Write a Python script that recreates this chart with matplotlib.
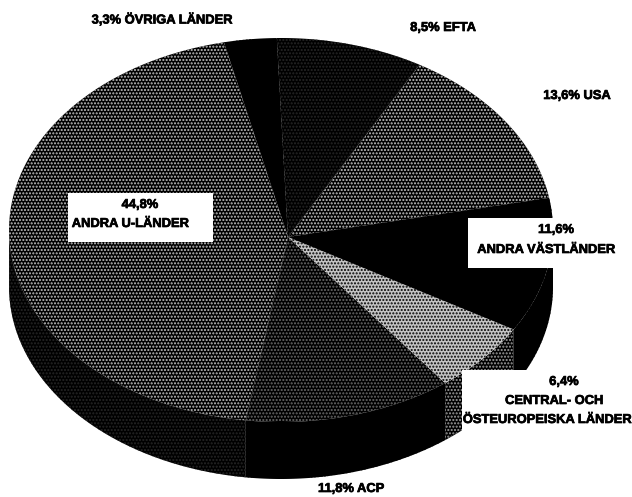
import numpy as np
import matplotlib
matplotlib.use("Agg")
import matplotlib.pyplot as plt
import matplotlib.patheffects as pe
from matplotlib.patches import Polygon, Rectangle

regions = ["USA", "EFTA", "ÖVRIGA LÄNDER", "ANDRA U-LÄNDER", "ACP", "CENTRAL- OCH ÖSTEUROPEISKA LÄNDER", "ANDRA VÄSTLÄNDER"]
shares = [13.6, 8.5, 3.3, 44.8, 11.8, 6.4, 11.6]
# wedge sizes as they are actually drawn in the picture, differ a bit from the printed numbers
drawn_shares = [13.8, 8.5, 3.0, 43.8, 12.9, 6.3, 11.7]

top_face = ["#000000", "#000000", "#000000", "#000000", "#000000", "#c4c4c4", "#000000"]
top_dots = ["#c4c4c4", "#262626", "#000000", "#c0c0c0", "#6a6a6a", "#000000", "#000000"]
wall_dots = ["#000000", "#000000", "#000000", "#262626", "#000000", "#a0a0a0", "#000000"]

plt.rcParams["font.family"] = ["Liberation Sans", "DejaVu Sans"]
plt.rcParams["hatch.linewidth"] = 1.0

CX, CY, RX, RY = 281, 230, 272, 192
APEX = (288, 237)
DEPTH = 57
START = 12


def rim_angle(theta):
    # ray from the off-centre apex out to the unit circle of the ellipse
    ax0, ay0 = (APEX[0] - CX) / RX, (CY - APEX[1]) / RY
    dx, dy = np.cos(np.radians(theta)), np.sin(np.radians(theta))
    b = ax0 * dx + ay0 * dy
    t = -b + np.sqrt(b * b - (ax0**2 + ay0**2 - 1))
    return np.degrees(np.arctan2(ay0 + t * dy, ax0 + t * dx)) % 360


def rim_xy(phi, drop=0):
    phi = np.radians(phi)
    return CX + RX * np.cos(phi), CY - RY * np.sin(phi) + drop


def pct(i):
    return f"{shares[i]:.1f}%".replace(".", ",")


fig = plt.figure(figsize=(6.32, 4.97), dpi=100)
ax = fig.add_axes([0, 0, 1, 1])
ax.set_xlim(0, 632)
ax.set_ylim(497, 0)
ax.axis("off")

edges = START + np.concatenate([[0], np.cumsum(drawn_shares)]) * 3.6
for i in range(len(drawn_shares)):
    a0 = rim_angle(edges[i])
    a1 = rim_angle(edges[i + 1])
    if a1 < a0:
        a1 += 360
    phi = np.linspace(a0, a1, 80)

    # side wall, only where the rim runs along the front
    front = phi[np.sin(np.radians(phi)) < 0]
    if len(front) > 1:
        x, y = rim_xy(front)
        x2, y2 = rim_xy(front[::-1], DEPTH)
        pts = np.column_stack([np.r_[x, x2], np.r_[y, y2]])
        ax.add_patch(Polygon(pts, facecolor="black", edgecolor=wall_dots[i],
                             hatch="." * 5, linewidth=0, zorder=1))

    x, y = rim_xy(phi)
    pts = np.column_stack([np.r_[APEX[0], x], np.r_[APEX[1], y]])
    ax.add_patch(Polygon(pts, facecolor=top_face[i], edgecolor=top_dots[i],
                         hatch="." * 5, linewidth=0, zorder=2))

# white label boxes cut into the pie
ax.add_patch(Rectangle((68, 193), 145, 49, facecolor="white", zorder=3))
ax.add_patch(Rectangle((468, 218), 164, 50, facecolor="white", zorder=3))
ax.add_patch(Rectangle((462, 370), 170, 127, facecolor="white", zorder=3))

labels = [
    (162, 20, f"{pct(2)} ÖVRIGA LÄNDER"),
    (443, 28, f"{pct(1)} EFTA"),
    (577, 96, f"{pct(0)} USA"),
    (556, 230, pct(6)),
    (546, 250, "ANDRA VÄSTLÄNDER"),
    (564, 382, pct(5)),
    (554, 401, "CENTRAL- OCH"),
    (547, 420, "ÖSTEUROPEISKA LÄNDER"),
    (351, 489, f"{pct(4)} ACP"),
    (140, 205, pct(3)),
    (130, 224, "ANDRA U-LÄNDER"),
]
for x, y, s in labels:
    ax.text(x, y, s, ha="center", va="center", fontsize=9.3, fontweight="bold", color="black", zorder=4,
            path_effects=[pe.withStroke(linewidth=0.5, foreground="black")])

fig.savefig("out.png", dpi=100)
